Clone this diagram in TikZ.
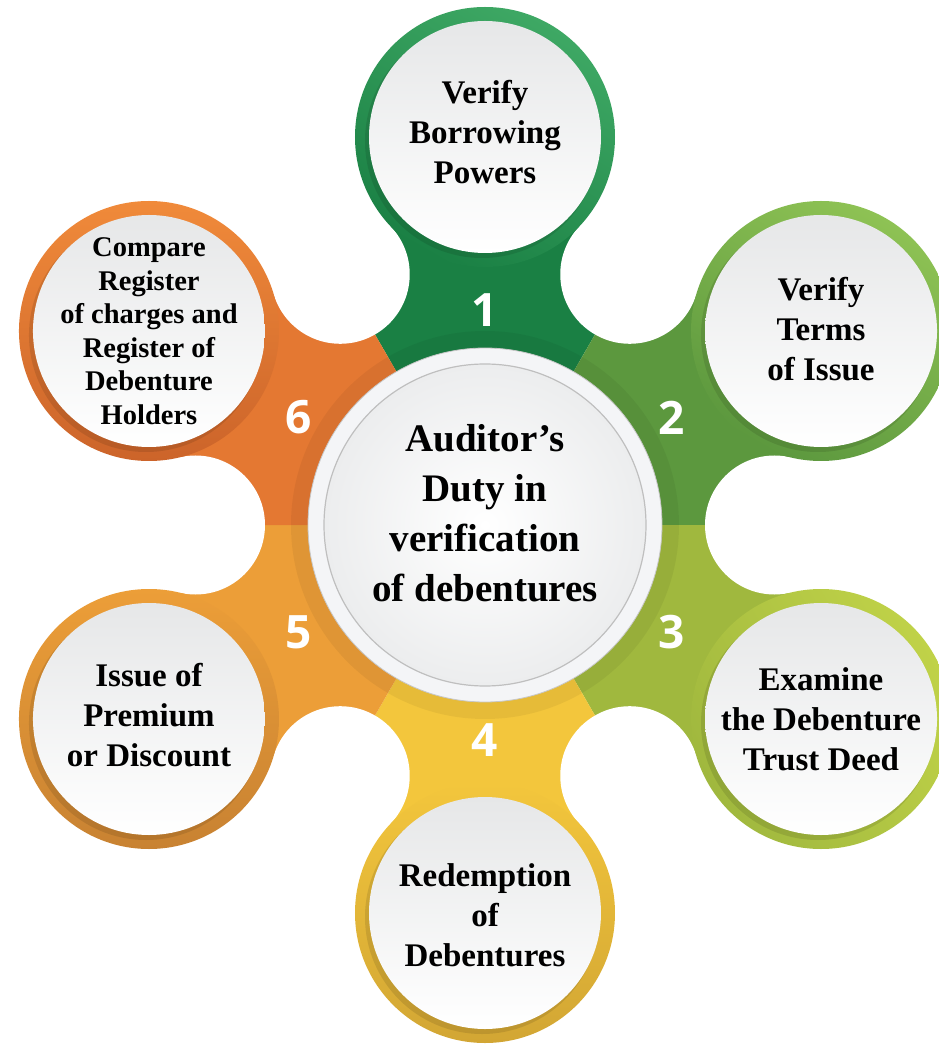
\documentclass[tikz,border=0pt]{standalone}
\usepackage{fontspec}
\setmainfont{Liberation Serif}
\newfontfamily\digitfont{Open Sans}
\usetikzlibrary{positioning,calc}
\definecolor{SecOne}{RGB}{26,128,68}
\definecolor{RimOne}{RGB}{62,168,100}
\definecolor{SecTwo}{RGB}{92,152,62}
\definecolor{RimTwo}{RGB}{142,194,84}
\definecolor{SecThree}{RGB}{160,184,62}
\definecolor{RimThree}{RGB}{192,210,72}
\definecolor{SecFour}{RGB}{243,198,60}
\definecolor{RimFour}{RGB}{210,166,52}
\definecolor{SecFive}{RGB}{236,158,56}
\definecolor{RimFive}{RGB}{200,130,50}
\definecolor{SecSix}{RGB}{228,120,50}
\definecolor{RimSix}{RGB}{240,138,58}
\definecolor{DarkSix}{RGB}{204,100,42}
\definecolor{BubbleGray}{RGB}{230,231,232}
\definecolor{HubGray}{RGB}{236,237,238}
\definecolor{HubRim}{RGB}{244,245,247}
\tikzset{
  gap/.style={fill=white,draw=none},
  ring/.style={circle,minimum size=260pt,inner sep=0pt,shading=axis},
  bubble/.style={circle,minimum size=232pt,inner sep=0pt,shading=axis,top color=BubbleGray,bottom color=white},
  shade/.style={circle,minimum size=234pt,inner sep=0pt,fill=black,opacity=.1},
  caption/.style={align=center,inner sep=0pt,font=\bfseries\fontsize{33}{40}\selectfont},
}
\tikzset{hubrim/.style={circle,minimum size=354pt,inner sep=0pt,fill=HubRim,draw=black!22,line width=.8pt},
  hubcore/.style={circle,minimum size=322pt,inner sep=0pt,inner color=white,outer color=HubGray,draw=black!25,line width=1.2pt},
  num/.style={text=white,font=\digitfont\bfseries\fontsize{46}{46}\selectfont}}

\begin{document}
\begin{tikzpicture}[x=1pt,y=1pt]
\useasboundingbox (-485,-519) rectangle (454,525);
\coordinate (hub) at (0,0);
\coordinate (c1) at (90:388);
\coordinate (c2) at (30:388);
\coordinate (c3) at (-30:388);
\coordinate (c4) at (-90:388);
\coordinate (c5) at (-150:388);
\coordinate (c6) at (150:388);
% sectors
\fill[SecOne] (hub) -- (60:312.5) arc[start angle=60,end angle=120,radius=312.5] -- cycle;
\fill[SecTwo] (hub) -- (0:312.5) arc[start angle=0,end angle=60,radius=312.5] -- cycle;
\fill[SecThree] (hub) -- (-60:312.5) arc[start angle=-60,end angle=0,radius=312.5] -- cycle;
\fill[SecFour] (hub) -- (-120:312.5) arc[start angle=-120,end angle=-60,radius=312.5] -- cycle;
\fill[SecFive] (hub) -- (180:312.5) arc[start angle=180,end angle=240,radius=312.5] -- cycle;
\fill[SecSix] (hub) -- (120:312.5) arc[start angle=120,end angle=180,radius=312.5] -- cycle;
% gaps between the arms
\fill[gap] (0:289.5) circle[radius=69.5];
\fill[gap] (60:289.5) circle[radius=69.5];
\fill[gap] (120:289.5) circle[radius=69.5];
\fill[gap] (180:289.5) circle[radius=69.5];
\fill[gap] (240:289.5) circle[radius=69.5];
\fill[gap] (300:289.5) circle[radius=69.5];
% hub
\fill[black,opacity=.05] (hub) circle[radius=194];
\node[hubrim] (rim) at (hub) {};
\node[hubcore] (core) at (hub) {};
\node[caption,font=\bfseries\fontsize{39}{50}\selectfont] (title) at (0,12) {Auditor’s\\Duty in\\verification\\of debentures};
% outer rings
\node[ring,top color=RimOne,bottom color=SecOne,shading angle=-30] (r1) at (c1) {};
\node[ring,top color=RimTwo,bottom color=SecTwo,shading angle=-30] (r2) at (c2) {};
\node[ring,top color=RimThree,bottom color=SecThree,shading angle=-60] (r3) at (c3) {};
\node[ring,top color=SecFour,bottom color=RimFour] (r4) at (c4) {};
\node[ring,top color=SecFive,bottom color=RimFive] (r5) at (c5) {};
\node[ring,top color=RimSix,bottom color=DarkSix] (r6) at (c6) {};
% bubbles
\node[shade] at ([shift={(-3,-4)}]c1) {};
\node[shade] at ([shift={(-3,-4)}]c2) {};
\node[shade] at ([shift={(-3,-4)}]c3) {};
\node[shade] at ([shift={(-3,-4)}]c4) {};
\node[shade] at ([shift={(-3,-4)}]c5) {};
\node[shade] at ([shift={(-3,-4)}]c6) {};
\node[bubble] (b1) at (c1) {};
\node[bubble] (b2) at (c2) {};
\node[bubble] (b3) at (c3) {};
\node[bubble] (b4) at (c4) {};
\node[bubble] (b5) at (c5) {};
\node[bubble] (b6) at (c6) {};
\node[caption] (t1) at ([yshift=5]b1.center) {Verify\\Borrowing\\Powers};
\node[caption] (t2) at ([yshift=2]b2.center) {Verify\\Terms\\of Issue};
\node[caption] (t3) at (b3.center) {Examine\\the Debenture\\Trust Deed};
\node[caption] (t4) at ([yshift=-2]b4.center) {Redemption\\of\\Debentures};
\node[caption] (t5) at ([yshift=4]b5.center) {Issue of\\Premium\\or Discount};
\node[caption,font=\bfseries\fontsize{28.5}{33.5}\selectfont] (t6) at (b6.center) {Compare\\Register\\of charges and\\Register of\\Debenture\\Holders};
% numbers
\node[num] (n1) at (90:215) {1};
\node[num] (n2) at (30:215) {2};
\node[num] (n3) at (-30:215) {3};
\node[num] (n4) at (-90:215) {4};
\node[num] (n5) at (-150:215) {5};
\node[num] (n6) at (150:215) {6};
\end{tikzpicture}
\end{document}
